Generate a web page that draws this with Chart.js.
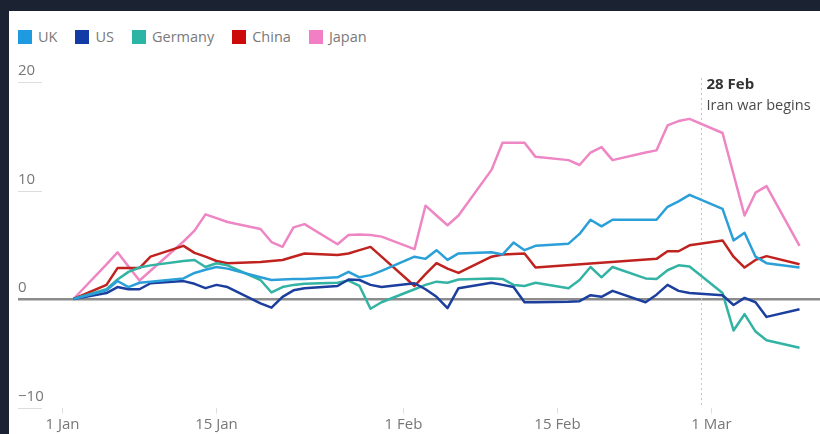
<!DOCTYPE html>
<html>
<head>
<meta charset="utf-8">
<script src="https://cdn.jsdelivr.net/npm/chart.js@4.4.1/dist/chart.umd.min.js"></script>
<style>
  html, body { margin:0; padding:0; width:820px; height:434px; overflow:hidden; background:#1b2232; }
  #panel { position:absolute; left:9px; top:11px; width:811px; height:423px; background:#ffffff; }
  #legend { position:absolute; left:9px; top:19px; display:flex; font-family:'Open Sans', sans-serif; font-size:14.5px; color:#7a7a7a; line-height:14px; }
  .item { display:flex; align-items:center; margin-right:18px; }
  .sw { width:14px; height:14px; margin-right:6px; }
  canvas { position:absolute; left:0; top:0; }
</style>
</head>
<body>
<div id="panel">
  <div id="legend"></div>
  <canvas id="c" width="811" height="423"></canvas>
</div>
<script>
// Trading dates (2026)
const dates = [
  '2026-01-02',
  '2026-01-05','2026-01-06','2026-01-07','2026-01-08','2026-01-09',
  '2026-01-12','2026-01-13','2026-01-14','2026-01-15','2026-01-16',
  '2026-01-19','2026-01-20','2026-01-21','2026-01-22','2026-01-23',
  '2026-01-26','2026-01-27','2026-01-28','2026-01-29','2026-01-30',
  '2026-02-02','2026-02-03','2026-02-04','2026-02-05','2026-02-06',
  '2026-02-09','2026-02-10','2026-02-11','2026-02-12','2026-02-13',
  '2026-02-16','2026-02-17','2026-02-18','2026-02-19','2026-02-20',
  '2026-02-23','2026-02-24','2026-02-25','2026-02-26','2026-02-27',
  '2026-03-02','2026-03-03','2026-03-04','2026-03-05','2026-03-06',
  '2026-03-09'
];
const seriesNames = ['UK', 'US', 'Germany', 'China', 'Japan'];
const ukValues = [0, 0.8,1.66,1.1,1.5,1.6, 1.9,2.4,2.7,2.95,2.8, 2.0,1.75,1.8,1.85,1.85, 2.0,2.5,2.0,2.2,2.6, 3.9,3.7,4.5,3.6,4.2, 4.3,4.1,5.2,4.5,4.9, 5.1,6.0,7.3,6.7,7.3, 7.3,7.3,8.5,9.0,9.6, 8.3,5.4,6.1,3.9,3.3, 2.9];
const usValues = [0, 0.55,1.1,0.9,0.9,1.45, 1.65,1.4,1.0,1.3,1.1, -0.4,-0.8,0.2,0.8,1.0, 1.2,1.8,1.75,1.3,1.1, 1.45,0.9,0.2,-0.85,1.0, 1.5,1.3,1.1,-0.3,-0.3, -0.25,-0.2,0.35,0.2,0.75, -0.3,0.4,1.3,0.75,0.55, 0.35,-0.55,0.1,-0.3,-1.65, -0.95];
const germanyValues = [0, 0.9,1.8,2.5,2.9,3.1, 3.5,3.6,2.95,3.3,3.1, 1.75,0.6,1.1,1.3,1.4, 1.5,1.7,1.2,-0.9,-0.3, 0.9,1.3,1.6,1.5,1.8, 1.9,1.85,1.3,1.2,1.5, 1.0,1.75,2.95,2.0,2.95, 1.9,1.85,2.65,3.1,3.0, 0.55,-2.9,-1.4,-3.0,-3.8, -4.5];
const chinaValues = [0, 1.3,2.85,2.85,2.85,3.9, 4.9,4.25,3.9,3.5,3.3, 3.4,3.5,3.6,3.9,4.2, 4.05,4.2,4.5,4.8,3.9, 1.2,2.3,3.3,2.8,2.4, 3.9,4.1,4.15,4.2,2.9, null,null,null,null,null, null,3.7,4.4,4.4,4.95, 5.4,3.9,2.9,3.6,3.95, 3.2];
const japanValues = [0, 3.2,4.3,3.0,1.7,2.6, 5.3,6.3,7.8,7.45,7.1, 6.45,5.25,4.8,6.6,6.9, 5.05,5.9,5.95,5.9,5.75, 4.6,8.6,7.7,6.8,7.7, 11.9,14.4,14.4,14.4,13.1, 12.8,12.35,13.5,14.0,12.8, 13.5,13.7,16.0,16.4,16.6, 15.3,11.5,7.7,9.8,10.4, 4.9];
const seriesColors = ['#2a9fd8', '#1c3f9e', '#33b3a3', '#c0231f', '#ee86c4'];
const legendColors = ['#1e9be0', '#123ba6', '#2bb5a5', '#cc0a0a', '#f27fc6'];

const xTickDates = ['2026-01-01','2026-01-15','2026-02-01','2026-02-15','2026-03-01'];
const xTickLabels = ['1 Jan','15 Jan','1 Feb','15 Feb','1 Mar'];
const yTickValues = [-10, 0, 10, 20];
const eventDate = '2026-02-28';
const eventTitle = '28 Feb';
const eventText = 'Iran war begins';

const origin = Date.UTC(2026, 0, 1);
const toDay = s => (Date.parse(s + 'T00:00:00Z') - origin) / 86400000;
const days = dates.map(toDay);
const xTickDays = xTickDates.map(toDay);

const allValues = [ukValues, usValues, germanyValues, chinaValues, japanValues];

// HTML legend
const legend = document.getElementById('legend');
seriesNames.forEach((n, i) => {
  const it = document.createElement('div'); it.className = 'item';
  const sw = document.createElement('div'); sw.className = 'sw'; sw.style.background = legendColors[i];
  const tx = document.createElement('span'); tx.textContent = n;
  it.appendChild(sw); it.appendChild(tx); legend.appendChild(it);
});

const datasets = seriesNames.map((n, i) => ({
  label: n,
  data: days.map((d, k) => ({ x: d, y: allValues[i][k] })),
  borderColor: seriesColors[i],
  backgroundColor: seriesColors[i],
  borderWidth: 2.5,
  pointRadius: 0,
  tension: 0,
  spanGaps: true,
  fill: false,
  borderJoinStyle: 'round'
}));

const decor = {
  id: 'decor',
  beforeDatasetsDraw(chart) {
    const { ctx, chartArea, scales: { x, y } } = chart;
    ctx.save();
    // short rules under y labels
    ctx.strokeStyle = '#dddddd'; ctx.lineWidth = 1;
    y.ticks.forEach(t => {
      if (t.value === 0) return;
      const py = Math.round(y.getPixelForValue(t.value)) + 0.5;
      ctx.beginPath(); ctx.moveTo(chartArea.left, py); ctx.lineTo(chartArea.left + 24, py); ctx.stroke();
    });
    // event dotted line
    const px = Math.round(x.getPixelForValue(toDay(eventDate))) + 0.5;
    ctx.strokeStyle = '#c4c4c4'; ctx.setLineDash([2, 3]);
    ctx.beginPath(); ctx.moveTo(px, 67); ctx.lineTo(px, chartArea.bottom); ctx.stroke();
    ctx.restore();
  },
  afterDatasetsDraw(chart) {
    const { ctx, scales: { x } } = chart;
    const px = x.getPixelForValue(toDay(eventDate));
    ctx.save();
    ctx.textBaseline = 'middle'; ctx.textAlign = 'left';
    ctx.fillStyle = '#333333';
    ctx.font = 'bold 15px "Open Sans"';
    ctx.fillText(eventTitle, px + 6, 74);
    ctx.fillStyle = '#4a4a4a';
    ctx.font = '14.5px "Open Sans"';
    ctx.fillText(eventText, px + 6, 95);
    ctx.restore();
  }
};

new Chart(document.getElementById('c'), {
  type: 'line',
  data: { datasets },
  options: {
    responsive: false,
    animation: false,
    devicePixelRatio: 1,
    layout: { padding: { left: 9, right: 0, top: 71, bottom: 0 } },
    plugins: { legend: { display: false }, tooltip: { enabled: false } },
    scales: {
      x: {
        type: 'linear',
        min: -4.045,
        max: 68.86,
        afterBuildTicks: s => { s.ticks = xTickDays.map(v => ({ value: v })); },
        afterFit: s => { s.height = 26.5; },
        ticks: {
          autoSkip: false, maxRotation: 0, padding: 2,
          color: '#777777',
          font: { family: 'Open Sans', size: 15 },
          callback: (v) => { const i = xTickDays.indexOf(v); return i >= 0 ? xTickLabels[i] : ''; }
        },
        grid: { drawOnChartArea: false, drawTicks: true, tickLength: 6, color: '#dddddd' },
        border: { display: false }
      },
      y: {
        min: -10, max: 20,
        afterBuildTicks: s => { s.ticks = yTickValues.map(v => ({ value: v })); },
        ticks: {
          mirror: true, padding: 0, labelOffset: -11,
          color: '#777777',
          font: { family: 'Open Sans', size: 15 },
          callback: v => v < 0 ? '\u2212' + Math.abs(v) : String(v)
        },
        grid: {
          drawTicks: false,
          color: c => c.tick && c.tick.value === 0 ? '#8c8c8c' : 'rgba(0,0,0,0)',
          lineWidth: c => c.tick && c.tick.value === 0 ? 2.5 : 0
        },
        border: { display: false }
      }
    }
  },
  plugins: [decor]
});
</script>
</body>
</html>
